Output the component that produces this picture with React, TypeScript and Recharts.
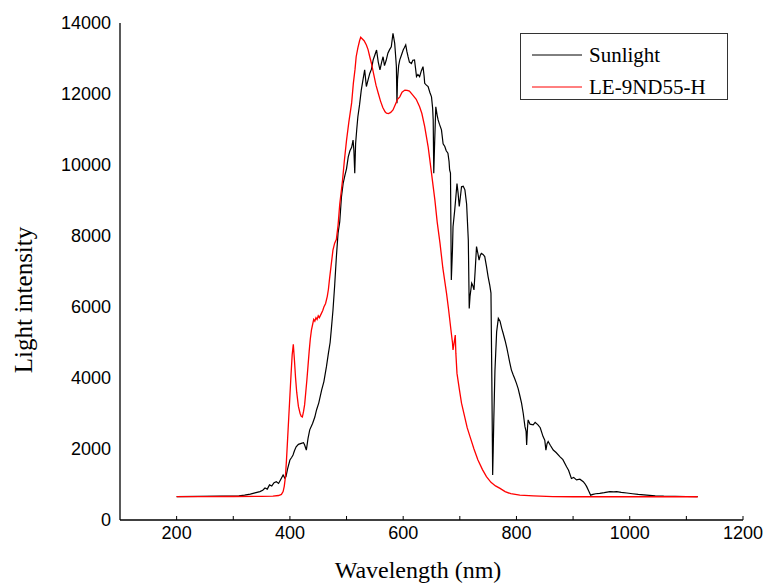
import React from 'react';
import { LineChart, Line, XAxis, YAxis, Legend } from 'recharts';

const sunWavelength = [
  200, 240, 280, 310, 320, 330, 340, 347, 352, 356, 360, 364, 368, 372, 376, 380, 384, 388, 391, 393,
  396, 400, 403, 405.5, 408, 411, 415, 420, 424, 426, 429, 432, 435, 440, 444, 447, 451, 456, 460, 464.5,
  468, 471, 473, 476, 479, 482, 485, 488, 491, 494, 497, 500, 503, 506, 509, 511.5, 513, 514.5, 516, 518,
  520, 523, 526, 529, 532, 535, 538, 541, 544, 547, 550, 553, 556, 559, 562, 564.5, 567, 570, 573, 576,
  579, 582, 585, 587, 588, 589, 590, 592, 594, 597, 600, 602, 604.5, 606.5, 608.6, 611, 614.6, 617, 620, 622,
  623.5, 626, 629, 632, 635, 637, 638, 641, 644, 647, 650, 652, 653, 654, 655.5, 657.6, 660, 661.7, 664, 667.6,
  670.5, 673.5, 676, 679, 681, 682, 683.5, 685, 687, 688, 691, 693, 695, 697, 699, 701, 703, 706, 709, 712,
  715, 716.6, 718, 721, 723, 725, 727, 729.5, 732, 734, 736, 738, 741, 744, 747, 750, 753, 755, 756.5, 758,
  759, 760, 762, 765, 768, 771, 774, 776.5, 780, 783, 785, 788, 791, 794, 797, 800, 803, 806, 809, 812,
  815, 817, 818, 819.5, 820.6, 824, 829.5, 833, 838, 842, 847, 850, 852, 854, 856, 860, 865, 870, 877, 882,
  888.5, 892, 897, 901, 906, 912, 918, 921, 924, 928, 931, 935, 940, 947, 955, 965, 972, 977, 985, 995,
  1005, 1015, 1030, 1045, 1060, 1080, 1100, 1120,
];
const sunIntensity = [
  660, 665, 670, 680, 700, 730, 770, 800, 840, 900, 870, 990, 960, 1050, 1080, 1030, 1150, 1270, 1180, 1220,
  1450, 1690, 1760, 1830, 1950, 2060, 2130, 2160, 2180, 2110, 1970, 2300, 2540, 2720, 2900, 3100, 3300, 3660, 3900, 4320,
  4700, 5000, 5350, 5900, 6600, 7400, 8080, 8400, 9100, 9480, 9700, 9900, 10230, 10400, 10500, 10700, 10400, 9770, 10600, 11000,
  11360, 11700, 12110, 12400, 12680, 12210, 12400, 12580, 12700, 12960, 13100, 13240, 12900, 12680, 12900, 13050, 12800, 12950, 13150, 13250,
  13330, 13710, 13430, 13000, 12770, 11740, 12400, 12800, 12960, 13100, 13240, 13300, 13380, 13200, 13050, 12900, 12860, 12950, 12960, 12700,
  12490, 12550, 12490, 12650, 12770, 12500, 12300, 12250, 12210, 12050, 11920, 11600, 11270, 9770, 10600, 11640, 11400, 11270, 11150, 10990,
  10600, 10520, 10400, 10330, 10100, 9860, 9770, 6760, 7600, 8260, 8730, 9100, 9480, 9200, 8830, 9100, 9390, 9400, 9300, 8900,
  7890, 5960, 6300, 6670, 6600, 6480, 7000, 7700, 7500, 7320, 7450, 7510, 7480, 7420, 7150, 6850, 6600, 6390, 4000, 1270,
  2000, 2820, 4200, 5300, 5680, 5600, 5400, 5260, 5050, 4850, 4690, 4450, 4230, 4100, 3980, 3850, 3700, 3500, 3290, 3000,
  2630, 2500, 2110, 2600, 2820, 2700, 2680, 2750, 2680, 2600, 2350, 2250, 1970, 2150, 2210, 2100, 1970, 1900, 1780, 1700,
  1500, 1400, 1170, 1200, 1130, 1150, 1080, 1020, 940, 800, 700, 720, 740, 750, 770, 800, 790, 800, 780, 760,
  740, 720, 700, 680, 670, 665, 662, 660,
];

const ledWavelength = [
  200, 250, 300, 350, 370, 380, 385, 388, 390, 392, 394, 396, 398, 400, 402, 404, 406, 408, 410, 412,
  415, 418, 420, 422, 424, 426, 428, 430, 432, 434, 436, 438, 440, 442, 444, 446, 448, 450, 452, 455,
  458, 460, 463, 466, 468, 470, 473, 476, 479, 482, 485, 488, 491, 493, 496, 500, 504, 509, 512, 515,
  517, 520, 523, 525, 528, 531, 535, 538, 541, 544, 548, 552, 556, 560, 564, 568, 570.5, 574, 578, 582,
  586, 590, 594, 598, 603, 607, 611, 617, 623, 629, 633, 638, 641, 644, 647, 650, 653, 656, 660, 665,
  670, 676.5, 680, 685, 687, 688, 690, 692, 693, 695, 699, 703, 708, 713, 718, 725, 732, 740, 747, 755,
  763, 771, 780, 790, 806, 830, 864, 900, 950, 1000, 1050, 1120,
];
const ledIntensity = [
  660, 660, 662, 665, 670, 690, 720, 800, 950, 1200, 1700, 2300, 2900, 3500, 4100, 4650, 4950, 4500, 4000, 3600,
  3200, 3000, 2920, 2900, 3050, 3250, 3600, 3950, 4350, 4750, 5100, 5350, 5500, 5650, 5600, 5700, 5650, 5750, 5700, 5800,
  5900, 6000, 6100, 6300, 6500, 6800, 7200, 7600, 7800, 7900, 8300, 8900, 9300, 9580, 10100, 10700, 11200, 11750, 12300, 12700,
  13050, 13300, 13500, 13600, 13550, 13500, 13380, 13250, 13050, 12860, 12550, 12250, 12020, 11800, 11620, 11500, 11460, 11450, 11480, 11550,
  11700, 11850, 11920, 12050, 12110, 12100, 12080, 11970, 11850, 11640, 11450, 11080, 10800, 10520, 10150, 9770, 9390, 9010, 8400, 7800,
  7100, 6390, 5950, 5260, 5000, 4790, 5000, 5210, 4700, 4130, 3700, 3290, 2950, 2600, 2350, 2000, 1690, 1420, 1220, 1060,
  960, 890, 800, 740, 700, 680, 660, 655, 655, 655, 655, 655,
];

const xTicks = [200, 300, 400, 500, 600, 700, 800, 900, 1000, 1100, 1200];
const yTicks = [0, 2000, 4000, 6000, 8000, 10000, 12000, 14000];

const sunData = sunWavelength.map((x, i) => ({ x, y: sunIntensity[i] }));
const ledData = ledWavelength.map((x, i) => ({ x, y: ledIntensity[i] }));

const SANS = '"Liberation Sans", Arial, sans-serif';
const SERIF = '"Liberation Serif", "Times New Roman", serif';

const renderLegend = () => (
  <svg width={209} height={68} style={{ display: 'block' }}>
    <rect x={0.5} y={0.5} width={207} height={66} fill="#fff" stroke="#333" strokeWidth={1} />
    <line x1={12} x2={62} y1={22} y2={22} stroke="#000" strokeWidth={1} />
    <text x={69} y={29} fontFamily={SERIF} fontSize={21} fill="#000">Sunlight</text>
    <line x1={12} x2={62} y1={54} y2={54} stroke="#ff0000" strokeWidth={1} />
    <text x={69} y={61} fontFamily={SERIF} fontSize={21} fill="#000">LE-9ND55-H</text>
  </svg>
);

export default function App() {
  return (
    <div style={{ position: 'absolute', left: 0, top: 0, width: 766, height: 583, background: '#fff' }}>
      <LineChart width={766} height={583} margin={{ top: 23, right: 23, bottom: 0, left: 0 }}>
        <XAxis
          type="number"
          dataKey="x"
          domain={[100, 1200]}
          ticks={xTicks}
          allowDataOverflow
          height={63}
          axisLine={{ stroke: '#000', strokeWidth: 1.3 }}
          tickLine={{ stroke: '#000' }}
          tickSize={-4}
          tickMargin={10}
          tickFormatter={(v: number) => (v % 200 === 0 ? String(v) : '')}
          tick={{ fill: '#000', fontSize: 18, fontFamily: SANS }}
          label={{
            content: () => (
              <text x={418} y={578} textAnchor="middle" fontFamily={SERIF} fontSize={24} fill="#000">
                Wavelength (nm)
              </text>
            ),
          }}
        />
        <YAxis
          type="number"
          domain={[0, 14000]}
          ticks={yTicks}
          width={120}
          axisLine={{ stroke: '#000', strokeWidth: 1.3 }}
          tickLine={false}
          tickMargin={3}
          tick={{ fill: '#000', fontSize: 18, fontFamily: SANS }}
          label={{
            content: () => (
              <text
                x={32}
                y={300}
                transform="rotate(-90 32 300)"
                textAnchor="middle"
                fontFamily={SERIF}
                fontSize={25}
                fill="#000"
              >
                Light intensity
              </text>
            ),
          }}
        />
        <Legend
          layout="vertical"
          align="center"
          verticalAlign="middle"
          content={renderLegend}
          wrapperStyle={{ position: 'absolute', left: 520, top: 33, width: 209, height: 68 }}
        />
        <Line
          data={sunData}
          dataKey="y"
          name="Sunlight"
          type="linear"
          stroke="#000"
          strokeWidth={1.2}
          dot={false}
          isAnimationActive={false}
        />
        <Line
          data={ledData}
          dataKey="y"
          name="LE-9ND55-H"
          type="linear"
          stroke="#ff0000"
          strokeWidth={1.3}
          dot={false}
          isAnimationActive={false}
        />
      </LineChart>
    </div>
  );
}
